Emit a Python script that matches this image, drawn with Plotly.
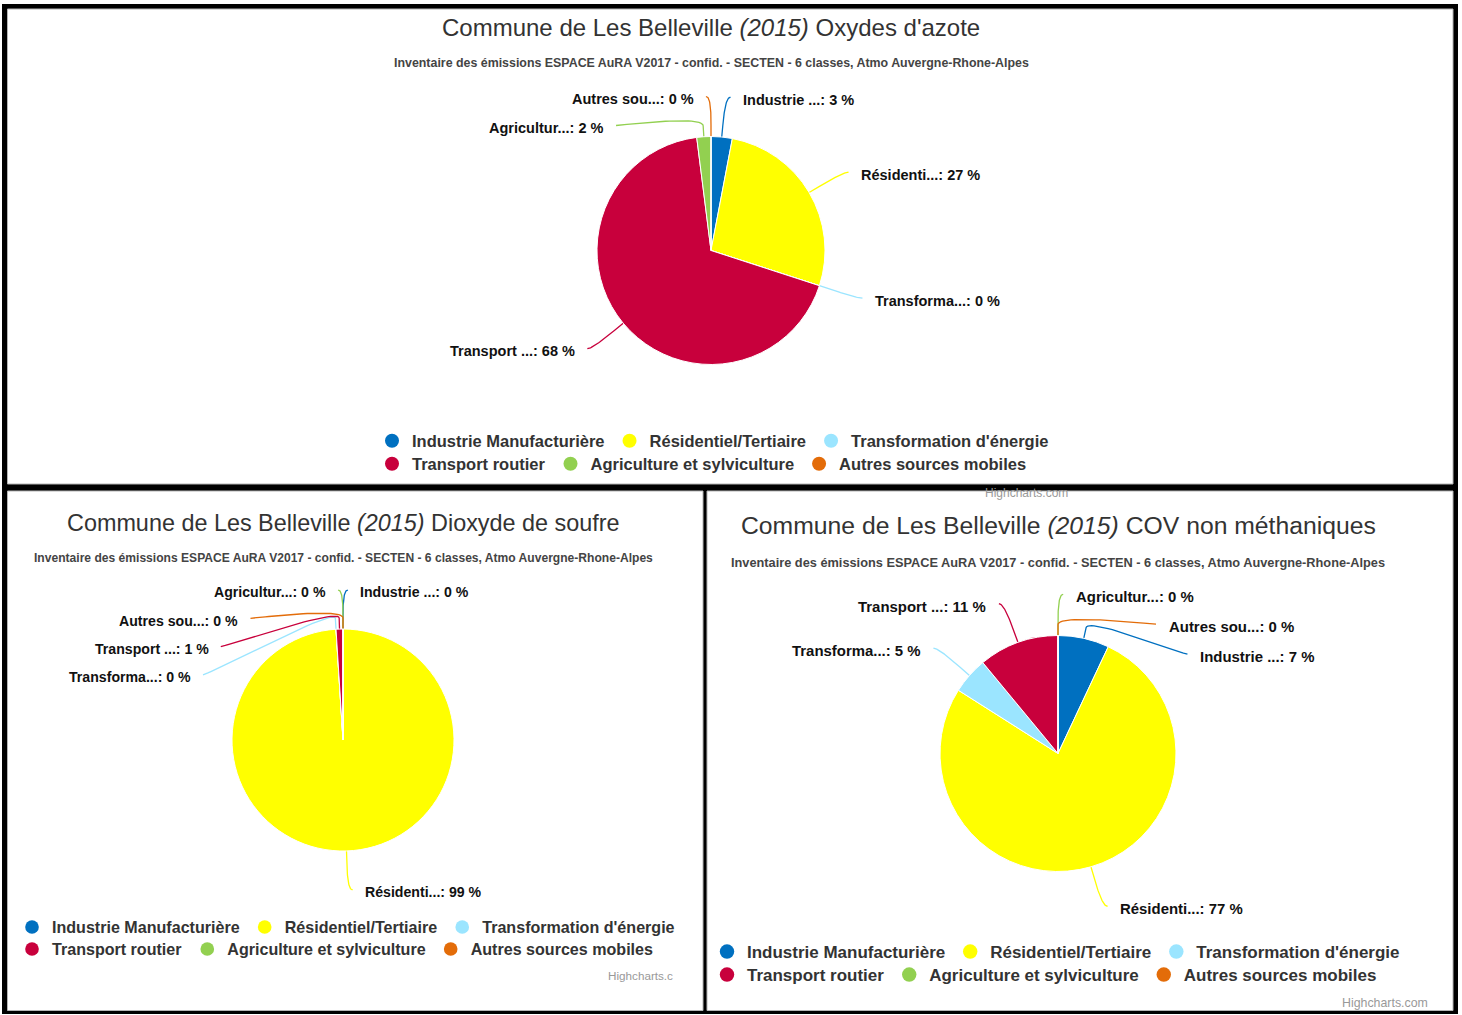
import math
import unicodedata
import plotly.graph_objects as go

W, H = 1462, 1015

# Emission sectors (SECTEN, 6 classes) and their colours
categories = [
    "Industrie Manufacturière",
    "Résidentiel/Tertiaire",
    "Transformation d'énergie",
    "Transport routier",
    "Agriculture et sylviculture",
    "Autres sources mobiles",
]
colors = ["#0070C0", "#FFFF00", "#9BE5FF", "#C8003C", "#92D050", "#E36C09"]

# Share of emissions per sector (%), commune de Les Belleville, 2015
nox_values = [3, 27, 0, 68, 2, 0]
so2_values = [0, 99, 0, 1, 0, 0]
cov_values = [7, 77, 5, 11, 0, 0]

commune = "Commune de Les Belleville"
year = "2015"
pollutants = ["Oxydes d'azote", "Dioxyde de soufre", "COV non méthaniques"]
subtitle = ("Inventaire des émissions ESPACE AuRA V2017 - confid. - SECTEN - "
            "6 classes, Atmo Auvergne-Rhone-Alpes")
credit = "Highcharts.com"

FONT = "Liberation Sans, Arial, sans-serif"

# Panel layout (pixel space, y downwards)
panels = [
    dict(values=nox_values, pollutant=pollutants[0], box=(7.5, 9, 1453, 484),
         cx=711, cy=250.5, r=114, k=1.0, seam="left",
         title_y=27, sub_y=63, legend_x=372, legend_y=(441, 464),
         credit=(credit, 1070, 493)),
    dict(values=so2_values, pollutant=pollutants[1], box=(7.5, 491, 703, 1010.5),
         cx=343, cy=740, r=111, k=0.975, seam="left",
         title_y=523, sub_y=558, legend_x=12, legend_y=(927, 949),
         credit=("Highcharts.c", 675, 975)),
    dict(values=cov_values, pollutant=pollutants[2], box=(707, 491, 1453, 1010.5),
         cx=1058, cy=753.5, r=118, k=1.03, seam="right",
         title_y=525, sub_y=562, legend_x=707, legend_y=(952, 975),
         credit=(credit, 1430, 1003)),
]
legend_rows = [[0, 1, 2], [3, 4, 5]]


def short_name(name, n=10):
    dec = unicodedata.normalize("NFD", name)
    return unicodedata.normalize("NFC", dec[:n]) + "..."


def cubic(p0, p1, p2, p3, n=30):
    pts = []
    for s in range(n + 1):
        t = s / n
        m = 1 - t
        pts.append((m ** 3 * p0[0] + 3 * m * m * t * p1[0] + 3 * m * t * t * p2[0] + t ** 3 * p3[0],
                    m ** 3 * p0[1] + 3 * m * m * t * p1[1] + 3 * m * t * t * p2[1] + t ** 3 * p3[1]))
    return pts


def distribute(items, length):
    """Stack overlapping label boxes (key, target, size) inside [0, length]."""
    items = sorted(items, key=lambda it: it[1])
    groups = [dict(size=s, targets=[t], keys=[key], sizes=[s]) for key, t, s in items]
    overlapping = True
    while overlapping:
        for g in groups:
            c = (min(g["targets"]) + max(g["targets"])) / 2
            g["pos"] = min(max(0, c - g["size"] / 2), length - g["size"])
        overlapping = False
        i = len(groups) - 1
        while i > 0:
            a, b = groups[i - 1], groups[i]
            if a["pos"] + a["size"] > b["pos"]:
                a["size"] += b["size"]
                a["targets"] += b["targets"]
                a["keys"] += b["keys"]
                a["sizes"] += b["sizes"]
                if a["pos"] + a["size"] > length:
                    a["pos"] = length - a["size"]
                groups.pop(i)
                overlapping = True
            i -= 1
    pos = {}
    for g in groups:
        off = 0
        for key, s in zip(g["keys"], g["sizes"]):
            pos[key] = g["pos"] + off
            off += s
    return pos


fig = go.Figure()
shapes = [dict(type="rect", xref="x", yref="y", x0=2, y0=4, x1=1458, y1=1014,
               fillcolor="#000000", line=dict(width=0), layer="below")]
annotations = []
legend_layouts = {}
legend_count = 0

for p in panels:
    vals = p["values"]
    cx, cy, r, k = p["cx"], p["cy"], p["r"], p["k"]
    bx0, by0, bx1, by1 = p["box"]
    shapes.append(dict(type="rect", xref="x", yref="y", x0=bx0, y0=by0, x1=bx1, y1=by1,
                       fillcolor="#FFFFFF", line=dict(color="#B4B4B4", width=1), layer="below"))

    # Pie
    fig.add_trace(go.Pie(
        values=vals, labels=categories, sort=False, direction="clockwise", rotation=0,
        marker=dict(colors=colors, line=dict(color="#FFFFFF", width=1)),
        textinfo="none", hoverinfo="skip", showlegend=False,
        domain=dict(x=[(cx - r) / W, (cx + r) / W], y=[1 - (cy + r) / H, 1 - (cy - r) / H]),
    ))

    # Data labels with connectors
    total = sum(vals)
    R = r + 40 * k
    slot = 29 * k
    top = cy - R
    length = (cy + R) + slot - top
    cum = 0
    info = []
    for i, v in enumerate(vals):
        theta = (cum + v / 2) / total * 360
        cum += v
        if theta >= 360 - 1e-9:
            side = p["seam"]
        elif theta <= 180:
            side = "right"
        else:
            side = "left"
        if side == "right":
            order = theta - 360 if theta >= 360 - 1e-9 else theta
        else:
            order = -theta
        nat_y = cy - R * math.cos(math.radians(theta))
        info.append(dict(i=i, theta=theta, side=side, order=order, nat_y=nat_y))

    label_y = {}
    for side in ("right", "left"):
        pts = sorted([d for d in info if d["side"] == side], key=lambda d: (d["order"], d["i"]))
        if not pts:
            continue
        pos = distribute([(d["i"], d["nat_y"] - top + slot / 2, slot) for d in pts], length)
        for key, v in pos.items():
            label_y[key] = top + v

    for d in info:
        i = d["i"]
        sgn = 1 if d["side"] == "right" else -1
        y = label_y[i]
        dy = max(-R, min(R, y - cy))
        x = cx + sgn * math.sqrt(max(0.0, R * R - dy * dy))
        th = math.radians(d["theta"])
        ux, uy = math.sin(th), -math.cos(th)
        E = (cx + r * ux, cy + r * uy)
        B = (cx + (r + 11) * ux, cy + (r + 11) * uy)
        C2 = (2 * B[0] - E[0], 2 * B[1] - E[1])
        S = (x + sgn * 5 * k, y)
        path = cubic(S, (x, y), C2, B) + [E]
        fig.add_trace(go.Scatter(
            x=[q[0] for q in path], y=[q[1] for q in path], mode="lines",
            line=dict(color=colors[i], width=1.3), hoverinfo="skip", showlegend=False,
        ))
        pct = int(round(vals[i] / total * 100))
        annotations.append(dict(
            xref="x", yref="y", x=x + sgn * 17.5 * k, y=y + 2.5 * k,
            xanchor="left" if sgn > 0 else "right", yanchor="middle",
            text=f"<b>{short_name(categories[i])}: {pct} %</b>", showarrow=False,
            font=dict(family=FONT, size=14.5 * k, color="#111111"),
            borderpad=0, borderwidth=0,
        ))

    # Title, subtitle, credit
    annotations.append(dict(
        xref="x", yref="y", x=cx, y=p["title_y"], xanchor="center", yanchor="middle",
        text=f"{commune} <i>({year})</i> {p['pollutant']}", showarrow=False,
        font=dict(family=FONT, size=24 * k, color="#333333"),
    ))
    annotations.append(dict(
        xref="x", yref="y", x=cx, y=p["sub_y"], xanchor="center", yanchor="middle",
        text=f"<b>{subtitle}</b>", showarrow=False,
        font=dict(family=FONT, size=12.4 * k, color="#444444"),
    ))
    ctext, cxr, cyr = p["credit"]
    annotations.append(dict(
        xref="x", yref="y", x=cxr, y=cyr, xanchor="right", yanchor="middle",
        text=ctext, showarrow=False, font=dict(family=FONT, size=12 * k, color="#999999"),
    ))

    # Legend: two rows, each its own legend
    for ri, row in enumerate(legend_rows):
        legend_count += 1
        lname = "legend" if legend_count == 1 else f"legend{legend_count}"
        for j in row:
            fig.add_trace(go.Scatter(
                x=[None], y=[None], mode="markers", name=categories[j],
                marker=dict(color=colors[j], size=14 * k, symbol="circle"),
                legend=lname, showlegend=True, hoverinfo="skip",
            ))
        legend_layouts[lname] = dict(
            orientation="h", x=p["legend_x"] / W, y=1 - p["legend_y"][ri] / H,
            xanchor="left", yanchor="middle", bgcolor="rgba(0,0,0,0)", borderwidth=0,
            font=dict(family=FONT, size=16.5 * k, color="#333333", weight="bold"),
            itemclick=False, itemdoubleclick=False, tracegroupgap=0,
        )

fig.update_layout(
    width=W, height=H, margin=dict(l=0, r=0, t=0, b=0, pad=0),
    paper_bgcolor="#FFFFFF", plot_bgcolor="rgba(0,0,0,0)",
    xaxis=dict(range=[0, W], visible=False, fixedrange=True),
    yaxis=dict(range=[H, 0], visible=False, fixedrange=True),
    shapes=shapes, annotations=annotations, hovermode=False,
    **legend_layouts,
)

fig.write_html("out.html")
